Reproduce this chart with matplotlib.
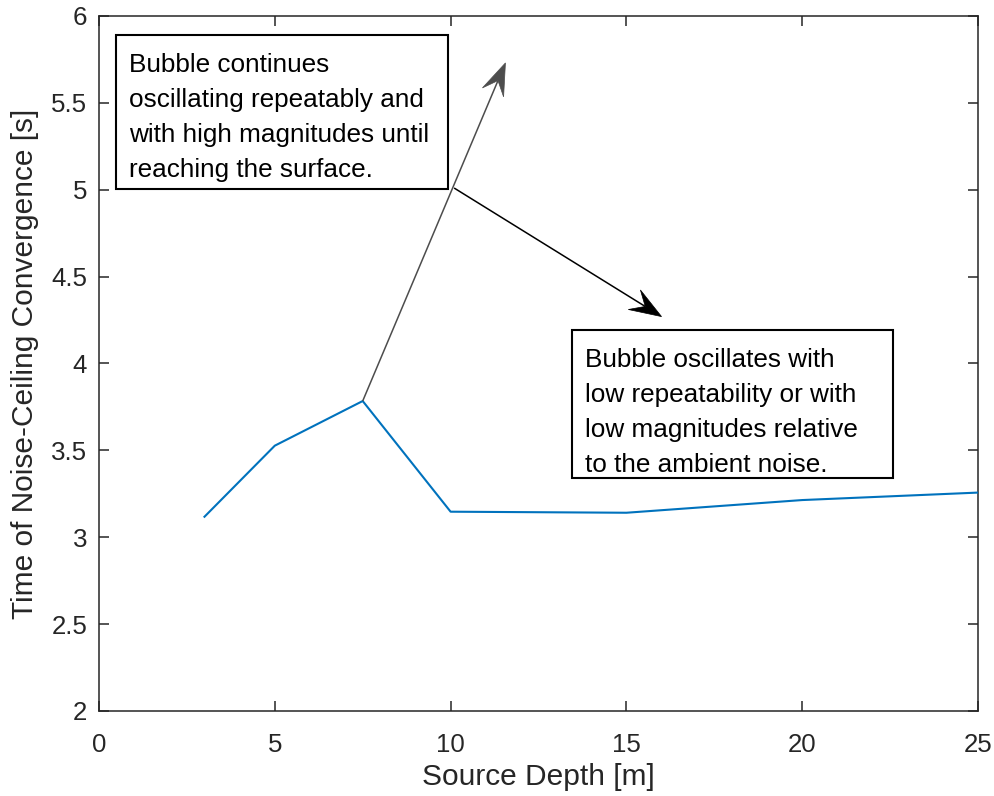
import numpy as np
import matplotlib
matplotlib.use('Agg')
import matplotlib.pyplot as plt
from matplotlib.patches import Polygon, Rectangle

plt.rcParams['font.family'] = ['Liberation Sans', 'DejaVu Sans']

# convergence time vs. source depth
depth = [3, 5, 7.5, 10, 15, 20, 25]
t_conv = [3.118, 3.527, 3.784, 3.147, 3.141, 3.214, 3.257]

note_up = ('Bubble continues\noscillating repeatably and\n'
           'with high magnitudes until\nreaching the surface.')
note_down = ('Bubble oscillates with\nlow repeatability or with\n'
             'low magnitudes relative\nto the ambient noise.')

axc = '#262626'
blue = '#0072BD'


def arrow(ax, p0, p1, color, lw=1.1, L=32., W=11.5, notch=0.6):
    # shaft + concave ("vback") head, head built in pixel space
    T = ax.transData
    a = T.transform(p0)
    b = T.transform(p1)
    d = (b - a) / np.hypot(*(b - a))
    n = np.array([-d[1], d[0]])
    base = b - d * L
    pts = [b, base + n * W, b - d * L * notch, base - n * W]
    pts = T.inverted().transform(np.array(pts))
    shaft_end = T.inverted().transform(b - d * L * notch)
    ax.plot([p0[0], shaft_end[0]], [p0[1], shaft_end[1]], color=color, lw=lw,
            solid_capstyle='butt', clip_on=False, zorder=4)
    ax.add_patch(Polygon(pts, closed=True, facecolor=color, edgecolor=color,
                         lw=0.5, clip_on=False, zorder=4))


fig = plt.figure(figsize=(9.95, 7.96), dpi=100)
ax = fig.add_axes([0.0995, 0.1068, 0.8834, 0.8731])

ax.plot(depth, t_conv, color=blue, lw=1.5, zorder=3)

ax.set_xlim(0, 25)
ax.set_ylim(2, 6)
ax.set_xticks([0, 5, 10, 15, 20, 25])
ax.set_yticks(np.arange(2, 6.01, 0.5))
ax.set_yticklabels(['2', '2.5', '3', '3.5', '4', '4.5', '5', '5.5', '6'])
ax.tick_params(direction='in', top=True, right=True, length=7, width=1.1,
               colors=axc, labelsize=18.6)
ax.tick_params(axis='x', pad=15.5)
ax.tick_params(axis='y', pad=8.5)
for s in ax.spines.values():
    s.set_color(axc)
    s.set_linewidth(1.1)

ax.set_xlabel('Source Depth [m]', fontsize=21.5, color=axc, labelpad=5)
ax.set_ylabel('Time of Noise-Ceiling Convergence [s]', fontsize=21.5,
              color=axc, labelpad=9)

# annotation arrows
arrow(ax, (7.5, 3.784), (11.56, 5.73), '#4d4d4d')
arrow(ax, (10.1, 5.01), (16.0, 4.27), 'black')

# annotation text boxes (figure fraction)
for (x0, y0, x1, y1), txt in [((0.1166, 0.7626, 0.4503, 0.9560), note_up),
                              ((0.5749, 0.3995, 0.8975, 0.5854), note_down)]:
    fig.patches.append(Rectangle((x0, y0), x1 - x0, y1 - y0,
                                 transform=fig.transFigure, facecolor='white',
                                 edgecolor='black', lw=1.5, zorder=5))
    fig.text(x0 + 0.0135, y1 - 0.022, txt, fontsize=18.8, color='black',
             va='top', ha='left', linespacing=1.58, zorder=6)

fig.savefig('out.png', dpi=100)
